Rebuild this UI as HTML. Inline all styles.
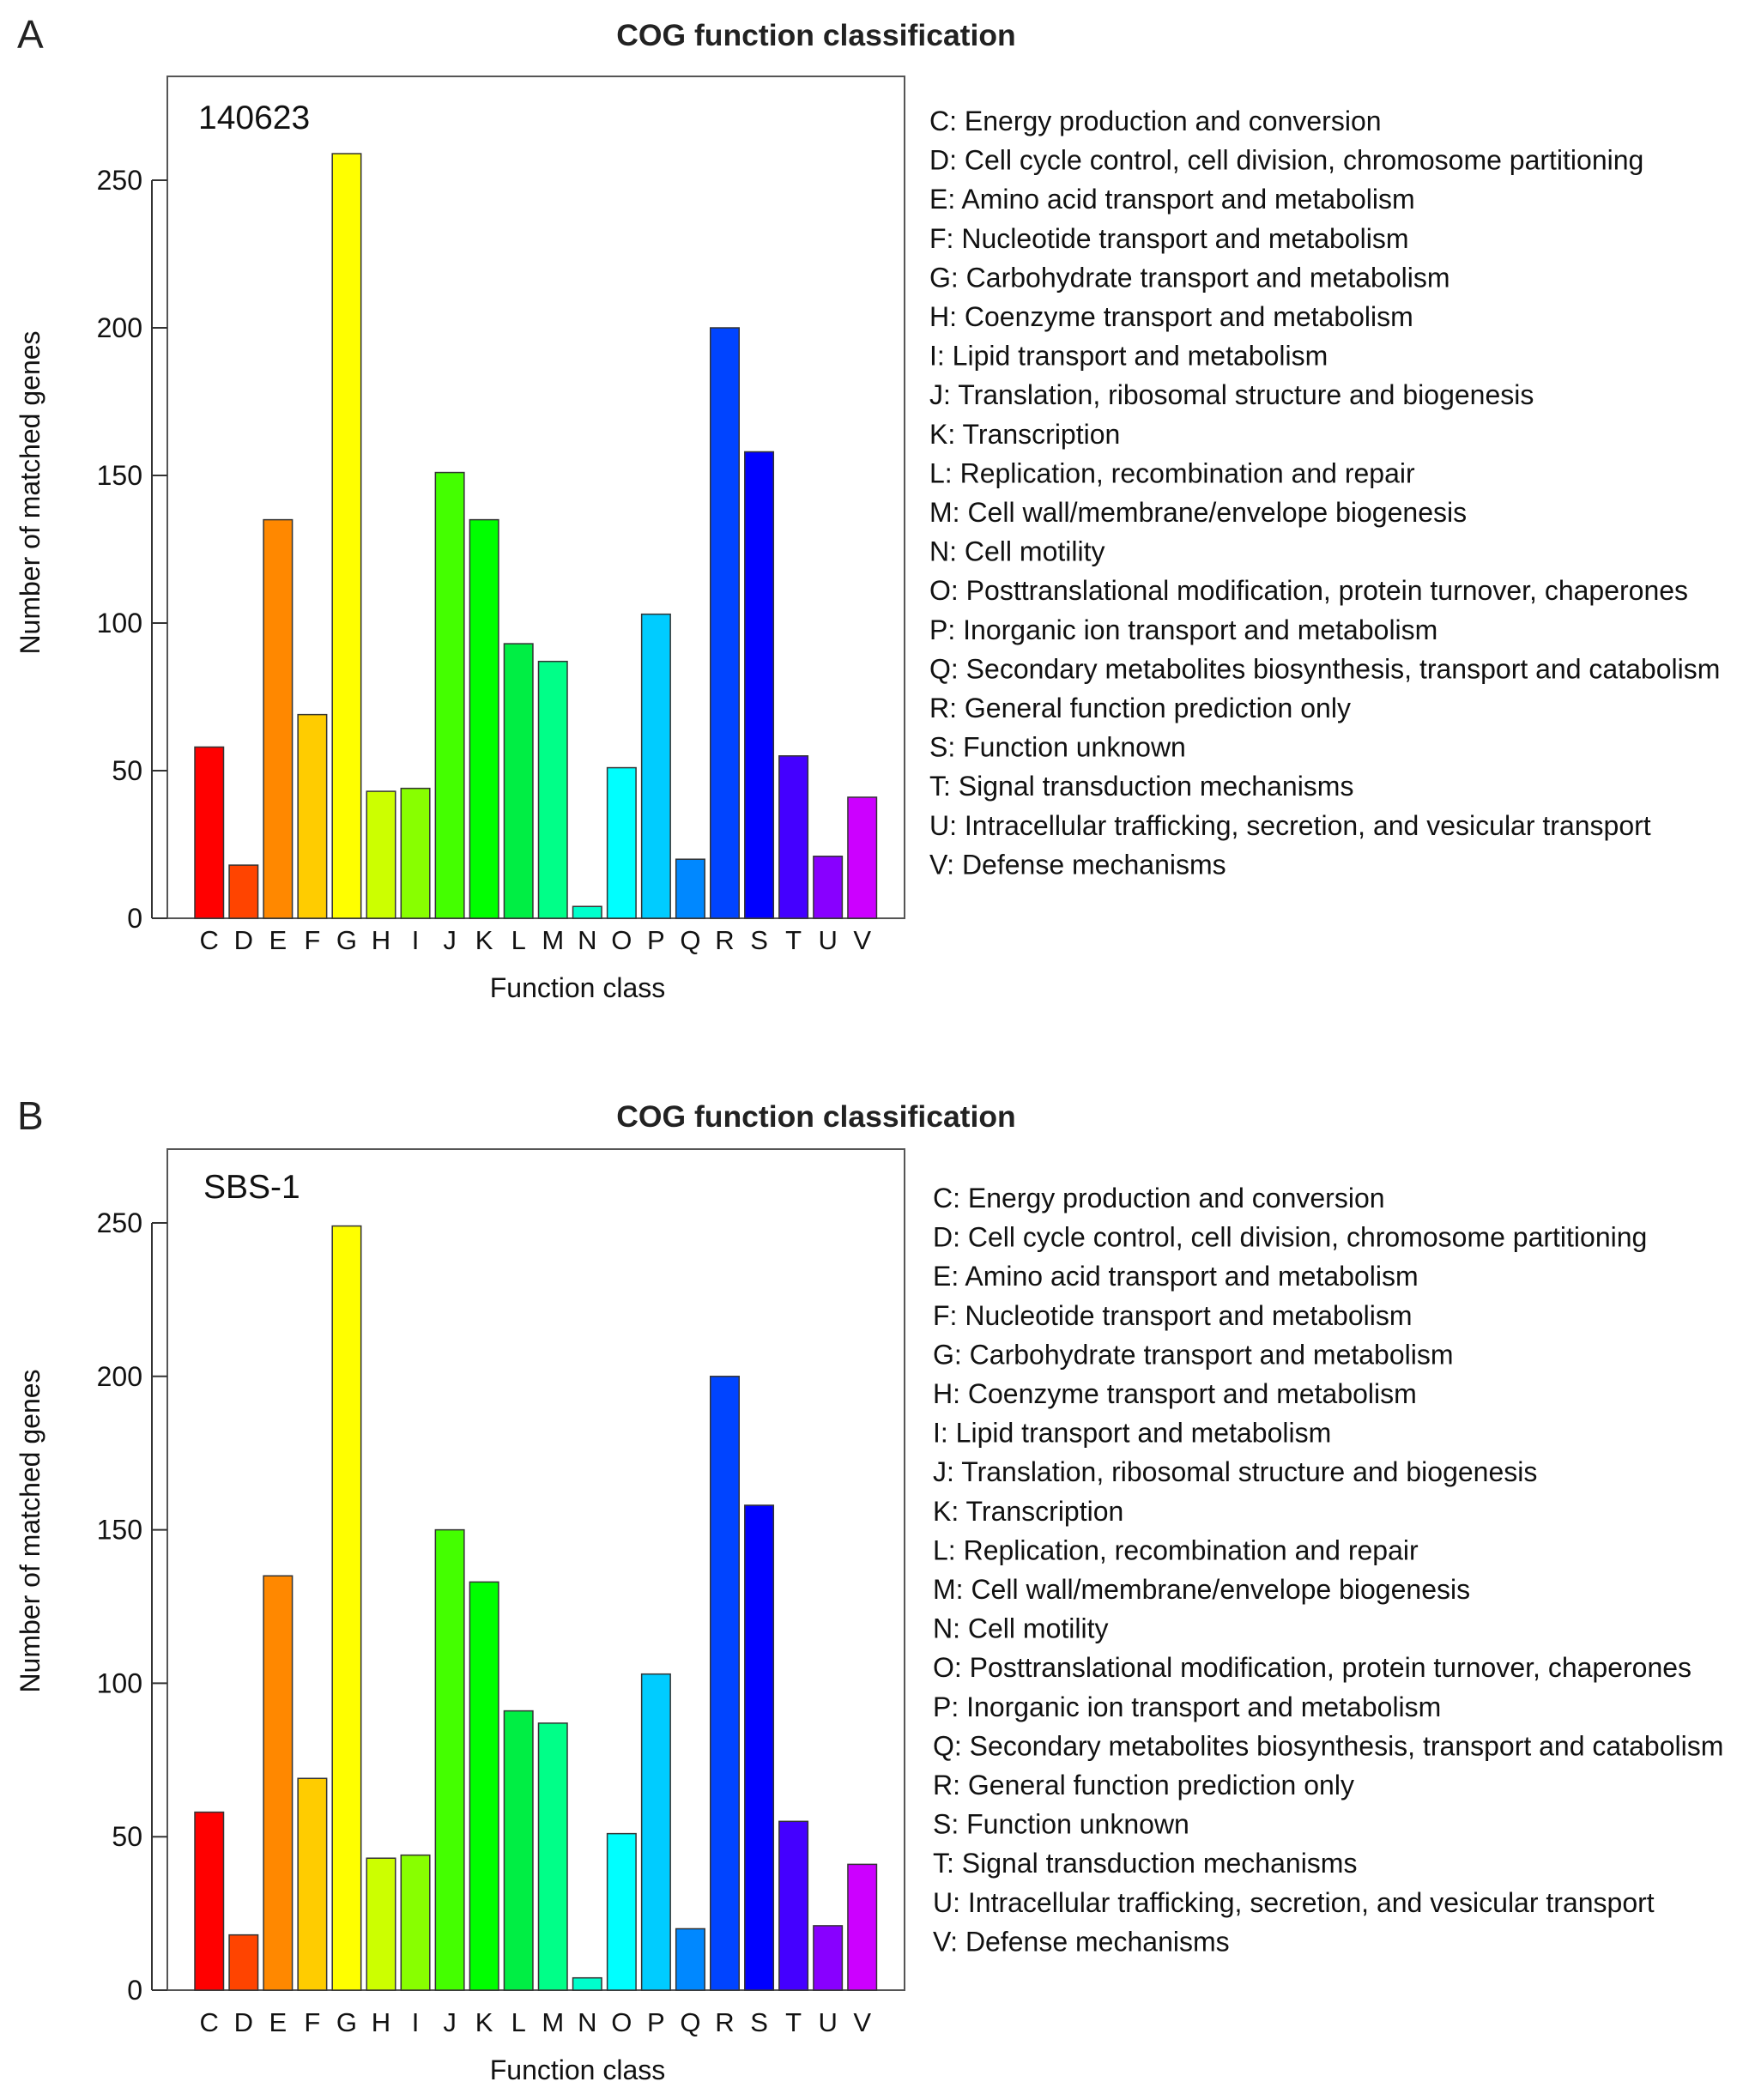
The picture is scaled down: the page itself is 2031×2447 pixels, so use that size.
<!DOCTYPE html>
<html><head><meta charset="utf-8"><style>
html,body{margin:0;padding:0;background:#fff}
svg{display:block;font-family:"Liberation Sans",Arial,sans-serif}
</style></head><body>
<svg id="fig" width="2031" height="2447" viewBox="0 0 2031 2447" xmlns="http://www.w3.org/2000/svg"></svg>
<script>
const categories = ["C","D","E","F","G","H","I","J","K","L","M","N","O","P","Q","R","S","T","U","V"];
const valuesA = [58,18,135,69,259,43,44,151,135,93,87,4,51,103,20,200,158,55,21,41];
const valuesB = [58,18,135,69,249,43,44,150,133,91,87,4,51,103,20,200,158,55,21,41];
const yTicks = [0,50,100,150,200,250];
const colors = ["#FF0000","#FF4400","#FF8800","#FFCC00","#FFFF00","#CCFF00","#88FF00","#44FF00","#00FF00","#00EE44","#00FF88","#00FFCC","#00FFFF","#00CCFF","#0088FF","#0044FF","#0000FF","#4400FF","#8800FF","#CC00FF"];
const legendLabels = ["C: Energy production and conversion","D: Cell cycle control, cell division, chromosome partitioning","E: Amino acid transport and metabolism","F: Nucleotide transport and metabolism","G: Carbohydrate transport and metabolism","H: Coenzyme transport and metabolism","I: Lipid transport and metabolism","J: Translation, ribosomal structure and biogenesis","K: Transcription","L: Replication, recombination and repair","M: Cell wall/membrane/envelope biogenesis","N: Cell motility","O: Posttranslational modification, protein turnover, chaperones","P: Inorganic ion transport and metabolism","Q: Secondary metabolites biosynthesis, transport and catabolism","R: General function prediction only","S: Function unknown","T: Signal transduction mechanisms","U: Intracellular trafficking, secretion, and vesicular transport","V: Defense mechanisms"];

const NS = "http://www.w3.org/2000/svg";
const svg = document.getElementById("fig");
function mk(tag, attrs, parent, text){
  const e = document.createElementNS(NS, tag);
  for (const k in attrs) e.setAttribute(k, attrs[k]);
  if (text !== undefined) e.textContent = text;
  parent.appendChild(e);
  return e;
}

function panel(p){
  const g = mk("g", {}, svg);
  
  
  const y = v => p.y0 - v * (p.y0 - p.y250) / 250;
  const x = i => 227 + i * 40.05;
  const bw = 33.5;

  let t = mk("text", {x:20, y:p.titleY+16, "font-size":46, fill:"#222"}, g, p.letter);
  
  
  t = mk("text", {x:951, y:p.titleY+13, "font-size":35.5, "font-weight":"bold", "text-anchor":"middle", fill:"#222"}, g, "COG function classification");
  
  

  const box = mk("rect", {x:195, y:p.boxTop, width:859, height:p.y0-p.boxTop, fill:"none", stroke:"#555", "stroke-width":2}, g);
  
  

  t = mk("text", {x:p.subX, y:p.subY+14, "font-size":39, fill:"#111"}, g, p.sub);
  
  

  const ax = mk("line", {x1:177, x2:177, y1:y(0), y2:y(250), stroke:"#333", "stroke-width":2}, g);
  
  
  yTicks.forEach(v => {
    const tk = mk("line", {x1:177, x2:195, y1:y(v), y2:y(v), stroke:"#333", "stroke-width":2}, g);
    
    
    const tl = mk("text", {x:166, y:y(v)+11, "font-size":32, "text-anchor":"end", fill:"#111"}, g, String(v));
    
    
  });

  p.values.forEach((v, i) => {
    const r = mk("rect", {x:x(i), y:y(v), width:bw, height:y(0)-y(v), fill:colors[i], stroke:"#333", "stroke-width":1.5}, g);
    
    
    const xl = mk("text", {x:x(i)+bw/2, y:p.xLabY+11, "font-size":31, "text-anchor":"middle", fill:"#111"}, g, categories[i]);
    
    
  });

  t = mk("text", {x:673, y:p.xTitleY+11, "font-size":32, "text-anchor":"middle", fill:"#111"}, g, "Function class");
  
  
  t = mk("text", {x:0, y:0, "font-size":32, "text-anchor":"middle", fill:"#111", transform:`translate(46 ${p.yTitleY}) rotate(-90)`}, g, "Number of matched genes");
  
  

  legendLabels.forEach((s, i) => {
    const le = mk("text", {x:p.legX, y:p.legY + i*45.6 + 11, "font-size":32, fill:"#111"}, g, s);
    
    
  });
}

panel({letter:"A", sub:"140623", values:valuesA, titleY:40, boxTop:89, y0:1070, y250:210,
  subX:231, subY:136, xLabY:1095, xTitleY:1151, yTitleY:574, legX:1083, legY:141});
panel({letter:"B", sub:"SBS-1", values:valuesB, titleY:1300, boxTop:1339, y0:2319, y250:1425,
  subX:237, subY:1382, xLabY:2356, xTitleY:2412, yTitleY:1784, legX:1087, legY:1396});
</script>
</body></html>
